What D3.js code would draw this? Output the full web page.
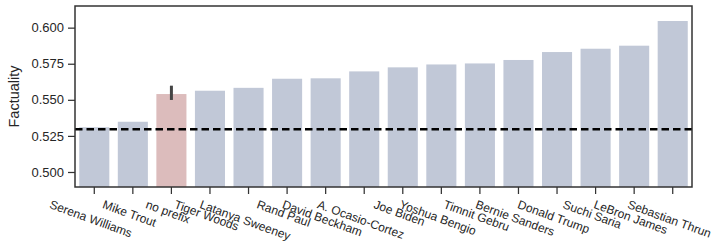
<!DOCTYPE html>
<html>
<head>
<meta charset="utf-8">
<script src="https://cdn.jsdelivr.net/npm/d3@7"></script>
<style>
  body { margin: 0; background: #fff; }
  svg { font-family: "Liberation Sans", Arial, sans-serif; }
</style>
</head>
<body>
<div id="chart"></div>
<script>
var names = ['Serena Williams', 'Mike Trout', 'no prefix', 'Tiger Woods', 'Latanya Sweeney',
  'Rand Paul', 'David Beckham', 'A. Ocasio-Cortez', 'Joe Biden', 'Yoshua Bengio',
  'Timnit Gebru', 'Bernie Sanders', 'Donald Trump', 'Suchi Saria', 'LeBron James', 'Sebastian Thrun'];
var values = [0.531, 0.5348, 0.554, 0.5563, 0.5583, 0.5646, 0.5649, 0.5697, 0.5725, 0.5745,
  0.5752, 0.5776, 0.5831, 0.5854, 0.5875, 0.6046];
var errLow = [null, null, 0.5499, null, null, null, null, null, null, null, null, null, null, null, null, null];
var errHigh = [null, null, 0.5598, null, null, null, null, null, null, null, null, null, null, null, null, null];
var baseline = 0.5296;
var yTicks = [0.500, 0.525, 0.550, 0.575, 0.600];
var highlight = 'no prefix';

var margin = {top: 6, right: 26, bottom: 61, left: 75},
    width = 718 - margin.left - margin.right,
    height = 248 - margin.top - margin.bottom;

var svg = d3.select("#chart").append("svg")
    .attr("width", 718)
    .attr("height", 248)
  .append("g")
    .attr("transform", "translate(" + margin.left + "," + margin.top + ")");

var x = d3.scaleBand().domain(names).range([0, width]).paddingInner(0.22).paddingOuter(0.11);
var y = d3.scaleLinear().domain([0.4896, 0.615]).range([height, 0]);

// bars
svg.selectAll("rect.bar")
    .data(names)
    .enter()
    .append("rect")
    .attr("class", "bar")
    .attr("x", function (d) { return x(d); })
    .attr("width", x.bandwidth())
    .attr("y", function (d, i) { return y(values[i]); })
    .attr("height", function (d, i) { return height - y(values[i]); })
    .style("fill", function (d) { return d == highlight ? "#dcbcbc" : "#c1c8d7"; });

// error bar
svg.selectAll("line.err")
    .data(names.filter(function (d, i) { return errLow[i] != null; }))
    .enter()
    .append("line")
    .attr("class", "err")
    .attr("x1", function (d) { return x(d) + x.bandwidth() / 2; })
    .attr("x2", function (d) { return x(d) + x.bandwidth() / 2; })
    .attr("y1", function (d) { return y(errLow[names.indexOf(d)]); })
    .attr("y2", function (d) { return y(errHigh[names.indexOf(d)]); })
    .style("stroke", "#444")
    .style("stroke-width", 3);

// baseline
svg.append("line")
    .attr("x1", 0).attr("x2", width)
    .attr("y1", y(baseline)).attr("y2", y(baseline))
    .style("stroke", "#000")
    .style("stroke-width", 2.4)
    .style("stroke-dasharray", "7.5,4");

// y axis
var yAxis = svg.append("g")
    .call(d3.axisLeft(y).tickValues(yTicks).tickFormat(d3.format(".3f")).tickSizeOuter(0).tickSize(7).tickPadding(4));
yAxis.selectAll("text").style("font-size", "13px").style("fill", "#262626");
yAxis.selectAll("line").style("stroke", "#333").style("stroke-width", 1.25);
yAxis.select(".domain").remove();

// x axis
var xAxis = svg.append("g")
    .attr("transform", "translate(0," + height + ")")
    .call(d3.axisBottom(x).tickSize(7).tickSizeOuter(0));
xAxis.select(".domain").remove();
xAxis.selectAll("line").style("stroke", "#333").style("stroke-width", 1.25);
xAxis.selectAll("text")
    .style("font-size", "12px")
    .style("fill", "#262626")
    .attr("text-anchor", "middle")
    .attr("dy", null)
    .attr("dominant-baseline", "central")
    .attr("transform", function () {
        var w = this.getComputedTextLength();
        var h = 12;
        var a = 20 * Math.PI / 180;
        var boxH = w * Math.sin(a) + h * Math.cos(a);
        var top = 12;
        return "translate(0," + (top + boxH / 2 - this.getAttribute("y")) + ") rotate(20)";
    });

// frame
svg.append("rect")
    .attr("width", width)
    .attr("height", height)
    .style("fill", "none")
    .style("stroke", "#333")
    .style("stroke-width", 1.5);

// y label
svg.append("text")
    .attr("transform", "translate(" + (14 - margin.left) + "," + (height / 2) + ") rotate(-90)")
    .attr("text-anchor", "middle")
    .attr("dominant-baseline", "central")
    .style("font-size", "14.5px")
    .style("fill", "#262626")
    .text("Factuality");
</script>
</body>
</html>
